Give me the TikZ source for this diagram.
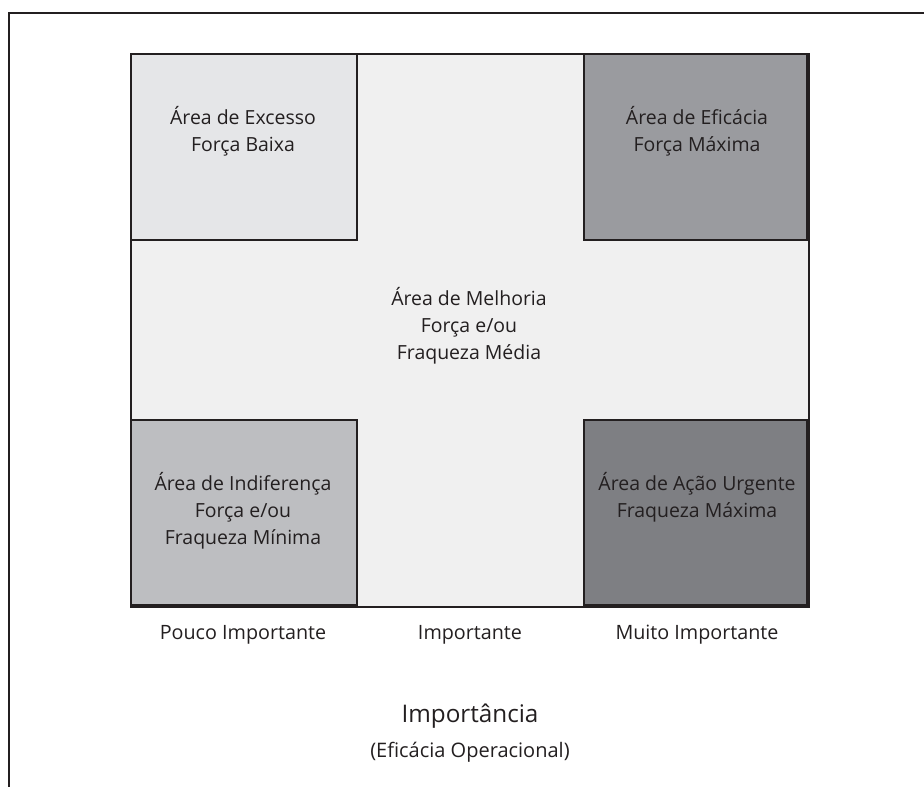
\documentclass[tikz,border=0pt]{standalone}
\usepackage{fontspec}
\setmainfont{Open Sans}
\definecolor{cMid}{HTML}{F0F0F0}
\definecolor{cTL}{HTML}{E5E6E8}
\definecolor{cTR}{HTML}{9A9B9F}
\definecolor{cBL}{HTML}{BDBEC1}
\definecolor{cBR}{HTML}{7E7F83}
\definecolor{cLine}{HTML}{231F20}
\tikzset{
  box/.style={draw=cLine, line width=1.6pt, inner sep=0pt},
  lbl/.style={align=center, text=cLine, font=\fontsize{14.6pt}{20.2pt}\selectfont, inner sep=0pt},
  axlbl/.style={text=cLine, font=\fontsize{14.8pt}{17pt}\selectfont, inner sep=0pt},
}
\begin{document}
\begin{tikzpicture}[x=0.75pt,y=-0.75pt]
\useasboundingbox (0,0) rectangle (924,787);
% partial outer frame
\draw[cLine, line width=2pt] (9,787) -- (9,13) -- (924,13);
% main area
\node[box, fill=cMid, minimum width=678*0.75pt, minimum height=553*0.75pt, anchor=north west] (main) at (130,53) {};
\node[box, fill=cTL, minimum width=226*0.75pt, minimum height=186*0.75pt, anchor=north west] (tl) at (130,53) {};
\node[box, fill=cTR, minimum width=223*0.75pt, minimum height=186*0.75pt, anchor=north east] (tr) at (808,53) {};
\node[box, fill=cBL, minimum width=226*0.75pt, minimum height=185*0.75pt, anchor=south west] (bl) at (130,606) {};
\node[box, fill=cBR, minimum width=223*0.75pt, minimum height=185*0.75pt, anchor=south east] (br) at (808,606) {};
% texts
\node[lbl] (ttl) at (243,131) {Área de Excesso\\Força Baixa};
\node[lbl] (ttr) at (697,131) {Área de Eficácia\\Força Máxima};
\node[lbl] (tmid) at (469,326) {Área de Melhoria\\Força e/ou\\Fraqueza Média};
\node[lbl] (tbl) at (243,511) {Área de Indiferença\\Força e/ou\\Fraqueza Mínima};
\node[lbl] (tbr) at (697,497) {Área de Ação Urgente\\Fraqueza Máxima};
% axis labels
\node[axlbl] (a1) at (243,635) {Pouco Importante};
\node[axlbl] (a2) at (470,635) {Importante};
\node[axlbl] (a3) at (697,635) {Muito Importante};
\node[text=cLine, font=\fontsize{18.2pt}{21pt}\selectfont, inner sep=0pt] (imp) at (470,716) {Importância};
\node[text=cLine, font=\fontsize{15pt}{18pt}\selectfont, inner sep=0pt] (ef) at (470,752) {(Eficácia Operacional)};
\end{tikzpicture}
\end{document}
